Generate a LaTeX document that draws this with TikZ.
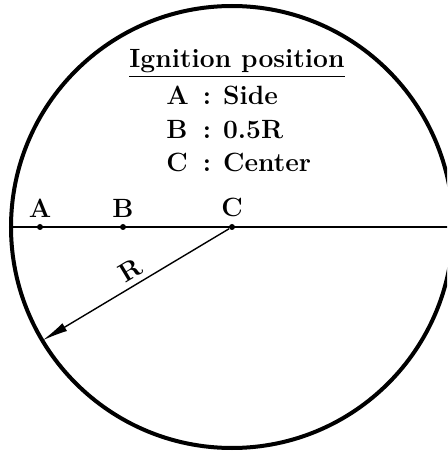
\documentclass[tikz,border=0pt]{standalone}
\usetikzlibrary{arrows.meta,positioning}

\begin{document}
\begin{tikzpicture}[x=0.5pt,y=0.5pt,
    dot/.style={circle,fill=black,inner sep=0pt,minimum size=3pt},
    lbl/.style={font=\bfseries\fontsize{13.2}{16.75}\selectfont,inner sep=0pt},
    rim/.style={line width=2pt},
    arrow/.style={-{Latex[length=13pt,width=4.5pt]},line width=0.7pt}
  ]
    \useasboundingbox (0,0) rectangle (447,451);
    \clip (0,0) rectangle (447,451);
    % chamber and diameter
    \coordinate (mid) at (232,224);
    \draw[rim] (mid) circle[radius=221];
    \coordinate (west) at (11,224);
    \coordinate (east) at (453,224);
    \draw[line width=0.7pt] (west) -- (east);
    % ignition points
    \foreach \x/\name in {40/a,123/b,232/c}
      \node[dot] (\name) at (\x,224) {};
    \node[lbl,above=3pt of a] (la) {A};
    \node[lbl,above=3pt of b] (lb) {B};
    \node[lbl,above=3pt of c] (lc) {C};
    % radius
    \path (mid) ++(210.9:221) coordinate (edge);
    \draw[arrow] (c) -- (edge);
    \node[lbl,rotate=31] (lr) at (130,181) {R};
    % legend
    \node[lbl,anchor=base] (title) at (237,383) {\underline{Ignition position}};
    \node[lbl,anchor=base west] (key) at (166,346) {%
      \begin{tabular}[t]{@{}l@{\hspace{7pt}}c@{\hspace{6pt}}l@{}}
        A & : & Side\\
        B & : & 0.5R\\
        C & : & Center
      \end{tabular}};
  \end{tikzpicture}
\end{document}
